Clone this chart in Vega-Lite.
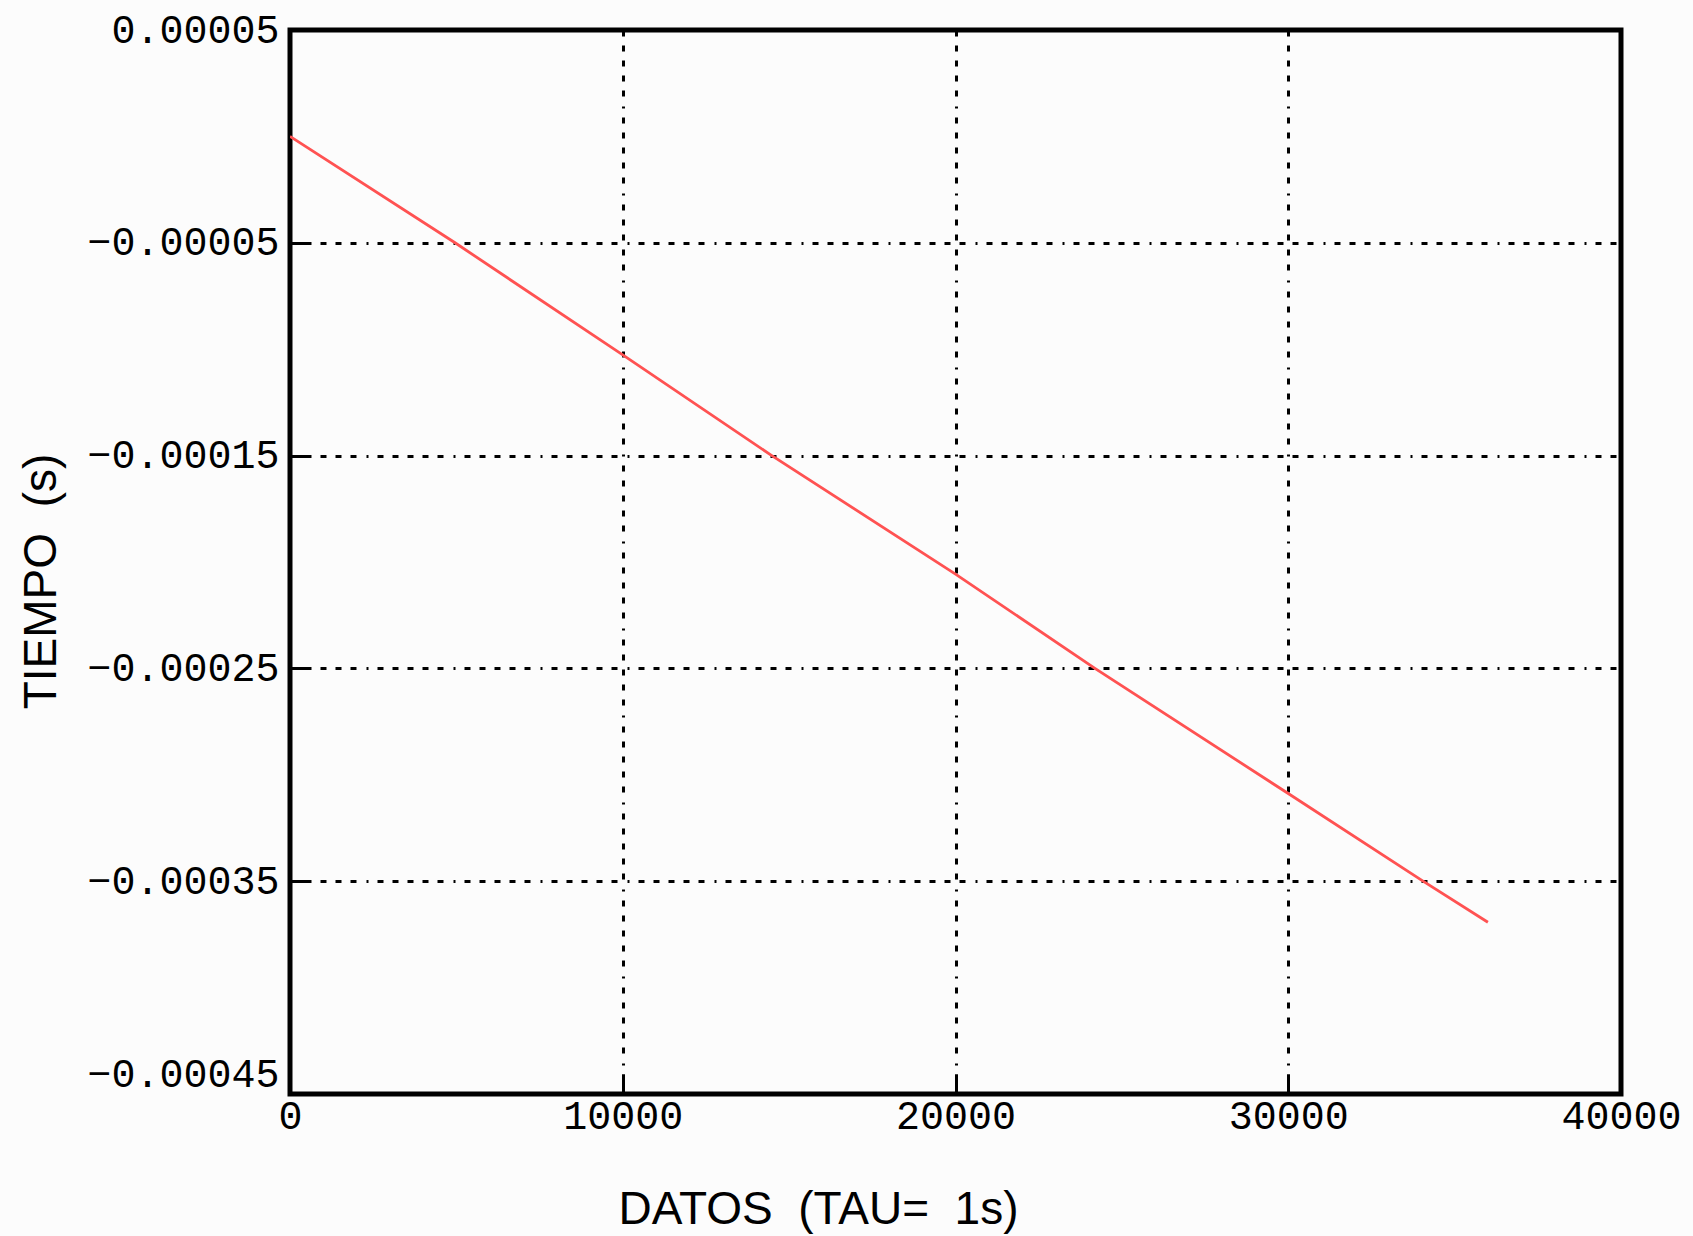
{
  "$schema": "https://vega.github.io/schema/vega-lite/v6.json",
  "width": 1331,
  "height": 1064,
  "autosize": {"type": "none"},
  "padding": {"left": 290, "top": 30, "right": 72, "bottom": 142},
  "background": "#fcfcfc",
  "view": {"stroke": "#000000", "strokeWidth": 5, "fill": null},
  "data": {
    "values": [
      {"datos": 0, "tiempo": 0.0},
      {"datos": 4960, "tiempo": -0.0000500},
      {"datos": 10000, "tiempo": -0.0001027},
      {"datos": 14480, "tiempo": -0.0001500},
      {"datos": 20000, "tiempo": -0.0002057},
      {"datos": 24190, "tiempo": -0.0002500},
      {"datos": 30000, "tiempo": -0.0003088},
      {"datos": 34050, "tiempo": -0.0003500},
      {"datos": 36000, "tiempo": -0.0003693}
    ]
  },
  "mark": {"type": "line", "color": "#ff5252", "strokeWidth": 2.8, "clip": true},
  "encoding": {
    "x": {
      "field": "datos",
      "type": "quantitative",
      "scale": {"domain": [0, 40000], "nice": false, "zero": false},
      "axis": {
        "title": "DATOS \u00a0(TAU= \u00a01s)",
        "values": [0, 10000, 20000, 30000, 40000],
        "format": "d",
        "domain": false,
        "grid": true,
        "gridColor": "#000000",
        "gridWidth": 3,
        "gridOpacity": 1,
        "gridDash": [6, 9, 6, 9, 6, 9, 6, 9, 6, 10, 2, 9],
        "ticks": true,
        "tickSize": -20,
        "tickWidth": 3,
        "tickColor": "#000000",
        "labelFont": "Liberation Mono",
        "labelFontSize": 40,
        "labelColor": "#000000",
        "labelPadding": 22,
        "labelLimit": 0,
        "labelFlush": false,
        "labelOverlap": false,
        "titleFont": "Liberation Sans",
        "titleFontSize": 46,
        "titleFontWeight": "normal",
        "titleColor": "#000000",
        "titleAlign": "center",
        "titleBaseline": "alphabetic",
        "titleLimit": 0,
        "titleX": 528,
        "titleY": 129
      }
    },
    "y": {
      "field": "tiempo",
      "type": "quantitative",
      "scale": {"domain": [-0.00045, 0.00005], "nice": false, "zero": false},
      "axis": {
        "title": "TIEMPO \u00a0(s)",
        "values": [0.00005, -0.00005, -0.00015, -0.00025, -0.00035, -0.00045],
        "format": ".5f",
        "domain": false,
        "grid": true,
        "gridColor": "#000000",
        "gridWidth": 3,
        "gridOpacity": 1,
        "gridDash": [6, 9, 6, 9, 6, 9, 6, 9, 6, 10, 2, 9],
        "ticks": true,
        "tickSize": -20,
        "tickWidth": 3,
        "tickColor": "#000000",
        "labelFont": "Liberation Mono",
        "labelFontSize": 40,
        "labelColor": "#000000",
        "labelPadding": 31,
        "labelLimit": 0,
        "labelFlush": false,
        "labelOverlap": false,
        "labelBaseline": {"condition": {"test": "datum.value < -0.0004", "value": "bottom"}, "value": "middle"},
        "titleFont": "Liberation Sans",
        "titleFontSize": 46,
        "titleFontWeight": "normal",
        "titleColor": "#000000",
        "titleAngle": 270,
        "titleAlign": "center",
        "titleBaseline": "alphabetic",
        "titleLimit": 0,
        "titleX": -235,
        "titleY": 551
      }
    }
  }
}
